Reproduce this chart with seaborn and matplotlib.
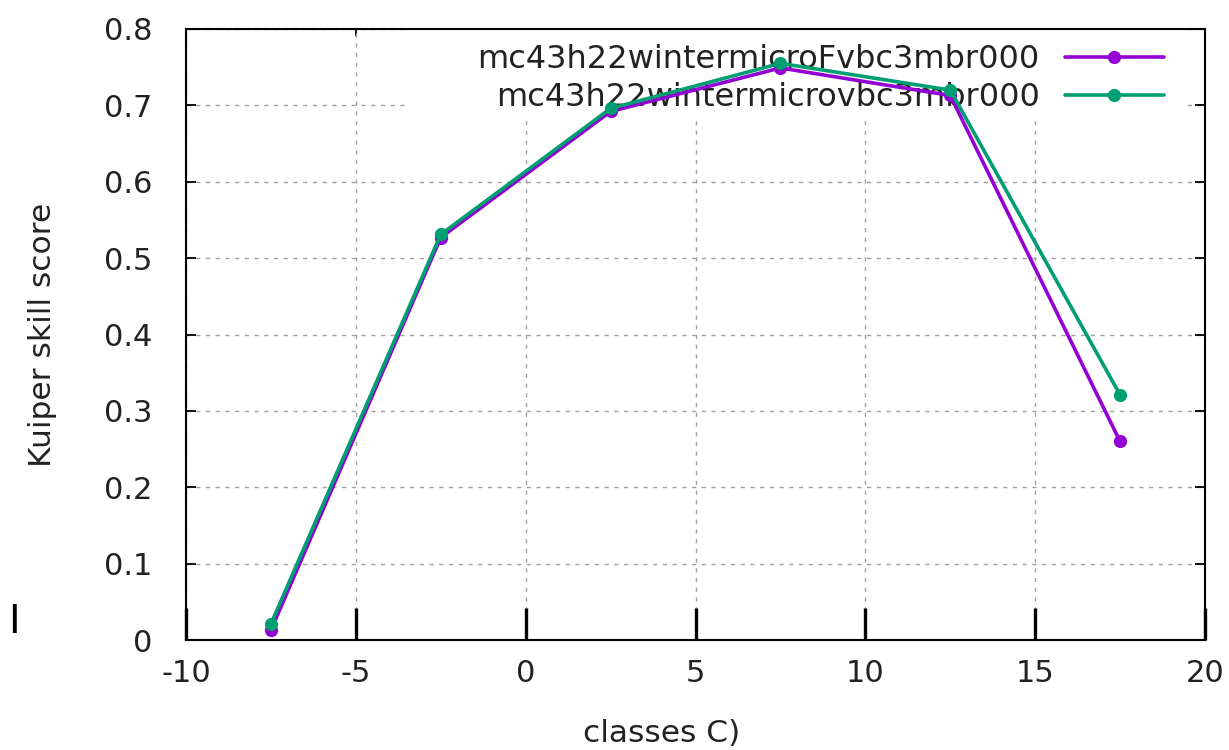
import numpy as np
import pandas as pd
import matplotlib
matplotlib.use("Agg")
import matplotlib.pyplot as plt
from matplotlib.patches import Rectangle
import seaborn as sns

# ---- data ----
classes = [-7.5, -2.5, 2.5, 7.5, 12.5, 17.5]
series_names = ["mc43h22wintermicroFvbc3mbr000", "mc43h22wintermicrovbc3mbr000"]
kss_F = [0.013, 0.527, 0.692, 0.749, 0.713, 0.260]
kss_v = [0.021, 0.531, 0.696, 0.755, 0.720, 0.321]
x_ticks = [-10, -5, 0, 5, 10, 15, 20]
y_ticks = [0, 0.1, 0.2, 0.3, 0.4, 0.5, 0.6, 0.7, 0.8]
y_ticklabels = ["0", "0.1", "0.2", "0.3", "0.4", "0.5", "0.6", "0.7", "0.8"]

df = pd.DataFrame({
    "x": classes * 2,
    "y": kss_F + kss_v,
    "series": [series_names[0]] * len(classes) + [series_names[1]] * len(classes),
})

sns.set_theme(style="white")
plt.rcParams['font.family'] = ['DejaVu Sans']

fig = plt.figure(figsize=(12.29, 7.5), dpi=100)
ax = fig.add_axes([186/1229, 1 - 640/750, (1205-186)/1229, (640-29)/750])

palette = {series_names[0]: "#9400D3", series_names[1]: "#009E73"}
sns.lineplot(data=df, x="x", y="y", hue="series", palette=palette, ax=ax,
             marker="o", markersize=9.5, markeredgewidth=0, linewidth=2.6,
             hue_order=series_names)

ax.set_xlim(-10, 20)
ax.set_ylim(0, 0.8)
ax.set_xticks(x_ticks)
ax.set_xticklabels([str(t) for t in x_ticks])
ax.set_yticks(y_ticks)
ax.set_yticklabels(y_ticklabels)

ax.set_axisbelow(True)
ax.grid(True, linestyle=(0, (3, 4)), color="#a0a0a0", linewidth=1.0)
for s in ax.spines.values():
    s.set_visible(True)
    s.set_color("black")
    s.set_linewidth(1.5)

ax.tick_params(axis="x", which="major", bottom=True, top=False, direction="in",
               length=23, width=2.4, colors="black",
               labelsize=22, pad=14, labelcolor="#222222")
ax.tick_params(axis="y", which="major", left=True, right=True, direction="in",
               length=7, width=1.3, colors="black",
               labelsize=22, pad=24, labelcolor="#222222")

secx = ax.secondary_xaxis("top")
secx.set_xticks(x_ticks)
secx.tick_params(axis="x", top=True, direction="in", length=5, width=1.3,
                 labeltop=False, colors="black")
secx.spines["top"].set_visible(False)

ax.set_xlabel("classes C)", fontsize=22.5, color="#222222", labelpad=20)
ax.xaxis.set_label_coords(0.467, -0.13)
ax.set_ylabel("Kuiper skill score", fontsize=22.5, color="#222222", labelpad=34)

# white key box (covers grid only, data drawn above)
ax.add_patch(Rectangle((0.2198, 0.8576), 0.9804 - 0.2198, 1 - 0.8576,
                       transform=ax.transAxes, facecolor="white",
                       edgecolor="none", zorder=1.5))

leg = ax.legend(loc="upper right", bbox_to_anchor=(1186/1229, 1 - 22/750),
                bbox_transform=fig.transFigure, markerfirst=False,
                fontsize=23, handlelength=3.1, handletextpad=0.78,
                labelspacing=0.22, borderpad=0.2, frameon=False, title=None)
leg.set_zorder(1.6)
for t in leg.get_texts():
    t.set_color("#222222")

fig.text(14/1229, 1 - 622/750, "I", fontsize=28, ha="center", va="center",
         color="black")

fig.savefig("out.png", dpi=100)
